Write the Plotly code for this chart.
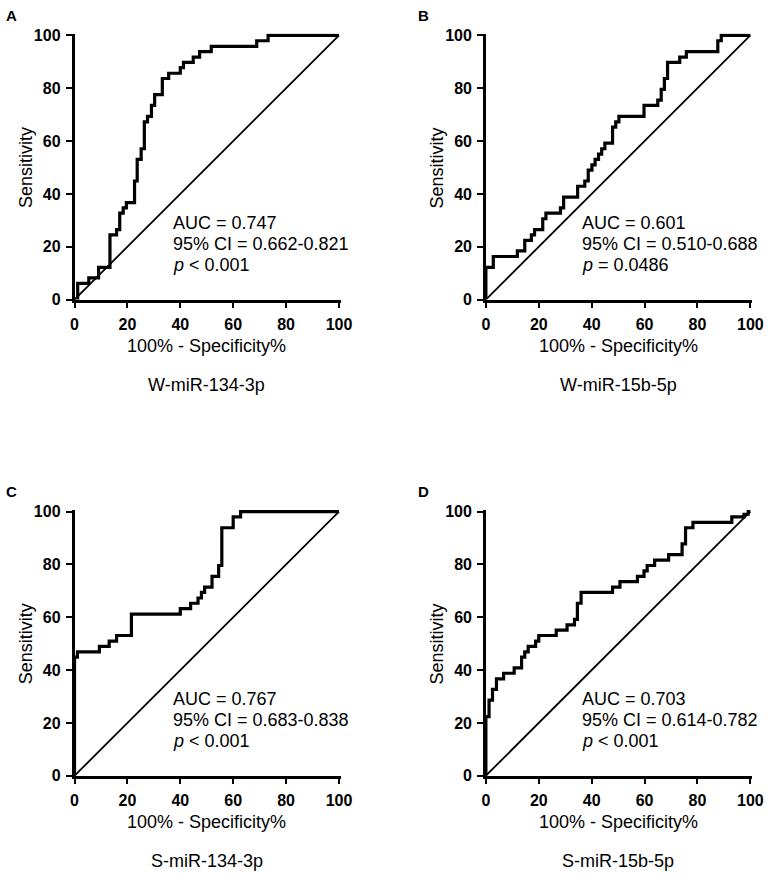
import plotly.graph_objects as go

W, H = 778, 878

# ---------------- data ----------------
panel_letters = ["A", "B", "C", "D"]
panel_names = ["W-miR-134-3p", "W-miR-15b-5p", "S-miR-134-3p", "S-miR-15b-5p"]
auc_labels = ["AUC = 0.747", "AUC = 0.601", "AUC = 0.767", "AUC = 0.703"]
ci_labels = ["95% CI = 0.662-0.821", "95% CI = 0.510-0.688",
             "95% CI = 0.683-0.838", "95% CI = 0.614-0.782"]
p_labels = ["<i>p</i> < 0.001", "<i>p</i> = 0.0486", "<i>p</i> < 0.001", "<i>p</i> < 0.001"]

tick_vals = [0, 20, 40, 60, 80, 100]
tick_text = ["0", "20", "40", "60", "80", "100"]
x_title = "100% - Specificity%"
y_title = "Sensitivity"

a_fpr = [0, 1.2, 5.4, 9.1, 13.4, 15.9, 17.1, 18.4, 19.6, 22.7, 23.7, 25.2, 26.4, 27.6,
         29.1, 30.3, 33.2, 35.6, 40.0, 41.2, 44.9, 47.3, 51.7, 68.9, 73.2, 100]
a_tpr = [0, 6.1, 8.2, 12.2, 24.5, 26.5, 32.7, 34.7, 36.7, 44.9, 53.1, 57.1, 67.3, 69.4,
         73.5, 77.6, 83.7, 85.7, 87.8, 89.8, 91.8, 93.9, 95.9, 98.0, 100, 100]

b_fpr = [0, 0, 2.8, 11.9, 14.7, 17.2, 18.4, 21.5, 22.7, 28.2, 29.4, 34.7, 37.4, 38.7,
         40.1, 41.3, 42.6, 43.8, 45.0, 47.9, 49.1, 50.3, 59.8, 65.0, 66.3, 67.5, 68.7,
         73.3, 75.8, 87.7, 89.0, 100]
b_tpr = [0, 12.2, 16.3, 18.4, 22.4, 24.5, 26.5, 30.6, 32.7, 34.7, 38.8, 42.9, 44.9, 49.0,
         51.0, 53.1, 55.1, 57.1, 59.2, 65.3, 67.3, 69.4, 73.5, 75.5, 79.6, 83.7, 89.8,
         91.8, 93.9, 98.0, 100, 100]

c_fpr = [0, 0, 1.1, 9.4, 13.1, 15.9, 21.5, 40.0, 43.9, 46.7, 48.0, 49.2, 52.0, 54.5,
         55.7, 60.0, 62.8, 100]
c_tpr = [0, 44.9, 46.9, 49.0, 51.0, 53.1, 61.2, 63.3, 65.3, 67.3, 69.4, 71.4, 75.5, 79.6,
         93.9, 98.0, 100, 100]

d_fpr = [0, 0, 1.2, 2.5, 4.0, 6.7, 10.7, 13.5, 14.7, 16.0, 18.8, 20.0, 26.6, 30.7, 33.5,
         34.6, 36.0, 47.9, 50.7, 57.3, 59.8, 61.0, 63.8, 69.1, 74.2, 75.5, 78.3, 93.0,
         97.6, 99.2, 100]
d_tpr = [0, 22.4, 28.6, 32.7, 36.7, 38.8, 40.8, 44.9, 46.9, 49.0, 51.0, 53.1, 55.1, 57.1,
         59.2, 65.3, 69.4, 71.4, 73.5, 75.5, 77.6, 79.6, 81.6, 83.7, 87.8, 93.9, 95.9,
         98.0, 99.0, 100, 100]

fprs = [a_fpr, b_fpr, c_fpr, d_fpr]
tprs = [a_tpr, b_tpr, c_tpr, d_tpr]

# ---------------- layout geometry (pixels) ----------------
lefts = [72, 492, 72, 492]
tops = [29, 29, 514, 514]
PW, PH = 270, 269
PAD = 0.7  # extra data units at top/right so edge lines are not clipped

FONT = "Liberation Sans, Arial, Helvetica, sans-serif"


def fx(p):
    return p / W


def fy(p):
    return 1 - p / H


fig = go.Figure()
annotations = []
layout = {}

for i in range(4):
    L, T = lefts[i], tops[i]
    sfx = "" if i == 0 else str(i + 1)
    xname, yname = "x" + sfx, "y" + sfx
    right = L + PW * (100 + PAD) / 100
    bottom = T + PH
    topp = bottom - PH * (100 + PAD) / 100

    axis_common = dict(
        range=[0, 100 + PAD], tickvals=tick_vals, ticktext=tick_text,
        showgrid=False, zeroline=False, showline=True, linecolor="black",
        linewidth=2.5, ticks="outside", ticklen=6, tickwidth=2, tickcolor="black",
        tickfont=dict(family=FONT, size=16, color="black", weight="bold"),
        fixedrange=True,
    )
    layout["xaxis" + sfx] = dict(axis_common, domain=[fx(L), fx(right)], anchor=yname,
                                 ticklabelstandoff=2)
    layout["yaxis" + sfx] = dict(axis_common, domain=[fy(bottom), fy(topp)], anchor=xname,
                                 ticklabelstandoff=2)

    # diagonal reference line
    fig.add_trace(go.Scatter(x=[0, 100], y=[0, 100], mode="lines",
                             line=dict(color="black", width=1.8),
                             xaxis=xname, yaxis=yname, showlegend=False, hoverinfo="skip"))
    # ROC curve
    fig.add_trace(go.Scatter(x=fprs[i], y=tprs[i], mode="lines",
                             line=dict(color="black", width=3.2, shape="hv"),
                             xaxis=xname, yaxis=yname, showlegend=False))

    # panel letter
    annotations.append(dict(text="<b>%s</b>" % panel_letters[i], x=fx(L - 64), y=fy(T - 20),
                            xref="paper", yref="paper", xanchor="center", yanchor="middle",
                            showarrow=False, font=dict(family=FONT, size=15, color="black")))
    # y title
    annotations.append(dict(text=y_title, x=fx(L - 50), y=fy(T + PH / 2), xref="paper",
                            yref="paper", xanchor="center", yanchor="middle", textangle=-90,
                            showarrow=False, font=dict(family=FONT, size=18, color="black")))
    # x title
    annotations.append(dict(text=x_title, x=fx(L + PW / 2), y=fy(bottom + 47), xref="paper",
                            yref="paper", xanchor="center", yanchor="middle",
                            showarrow=False, font=dict(family=FONT, size=18, color="black")))
    # panel name
    annotations.append(dict(text=panel_names[i], x=fx(L + PW / 2), y=fy(bottom + 87),
                            xref="paper", yref="paper", xanchor="center", yanchor="middle",
                            showarrow=False, font=dict(family=FONT, size=18, color="black")))
    # statistics text
    tx = L + (98 if i in (0, 2) else 96)
    ty = T + 191
    for k, txt in enumerate([auc_labels[i], ci_labels[i], p_labels[i]]):
        annotations.append(dict(text=txt, x=fx(tx), y=fy(ty + k * 21.5), xref="paper",
                                yref="paper", xanchor="left", yanchor="middle",
                                showarrow=False,
                                font=dict(family=FONT, size=18, color="black")))

fig.update_layout(
    width=W, height=H, margin=dict(l=0, r=0, t=0, b=0),
    paper_bgcolor="white", plot_bgcolor="white",
    annotations=annotations, showlegend=False, **layout,
)

fig.write_html(
    "out.html",
    config={"displayModeBar": False},
    post_script="document.body.style.margin='0';document.body.style.padding='0';",
)
